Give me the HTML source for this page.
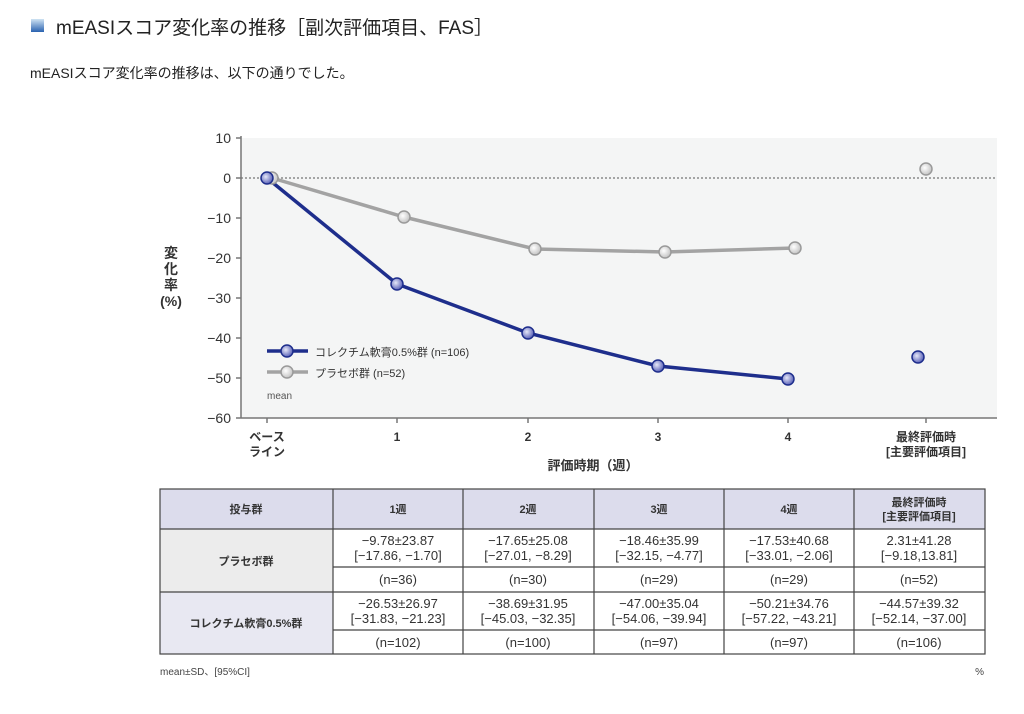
<!DOCTYPE html>
<html><head><meta charset="utf-8"><style>
body{margin:0;background:#fff;width:1024px;height:709px;overflow:hidden;font-family:"Liberation Sans","Noto Sans CJK JP",sans-serif}
svg text{font-family:"Liberation Sans","Noto Sans CJK JP",sans-serif}
</style></head><body>
<svg width="1024" height="709" viewBox="0 0 1024 709" xmlns="http://www.w3.org/2000/svg">
<defs>
<linearGradient id="ic" x1="0" y1="0" x2="0" y2="1"><stop offset="0" stop-color="#cfe3f3"/><stop offset="1" stop-color="#2a62b0"/></linearGradient>
<radialGradient id="gb" cx="0.4" cy="0.4" r="0.6"><stop offset="0" stop-color="#e6e8f8"/><stop offset="1" stop-color="#5a62b8"/></radialGradient>
<radialGradient id="gg" cx="0.4" cy="0.4" r="0.6"><stop offset="0" stop-color="#ffffff"/><stop offset="1" stop-color="#c4c4c4"/></radialGradient>
</defs>
<rect x="31" y="19" width="13" height="13" fill="url(#ic)"/>
<text x="56" y="34" font-size="19" fill="#222">mEASIスコア変化率の推移［副次評価項目、FAS］</text>
<text x="30" y="78" font-size="14" fill="#222">mEASIスコア変化率の推移は、以下の通りでした。</text>

<rect x="241" y="138" width="756" height="280" fill="#f4f5f5"/>
<line x1="241" y1="178" x2="997" y2="178" stroke="#555" stroke-width="1" stroke-dasharray="2,2"/>
<line x1="241" y1="136" x2="241" y2="418" stroke="#777" stroke-width="1.5"/>
<line x1="241" y1="418" x2="997" y2="418" stroke="#777" stroke-width="1.5"/>
<g stroke="#777" stroke-width="1.5">
<line x1="236" y1="138" x2="241" y2="138"/><line x1="236" y1="178" x2="241" y2="178"/><line x1="236" y1="218" x2="241" y2="218"/><line x1="236" y1="258" x2="241" y2="258"/><line x1="236" y1="298" x2="241" y2="298"/><line x1="236" y1="338" x2="241" y2="338"/><line x1="236" y1="378" x2="241" y2="378"/><line x1="236" y1="418" x2="241" y2="418"/>
<line x1="267" y1="418" x2="267" y2="423"/><line x1="397" y1="418" x2="397" y2="423"/><line x1="528" y1="418" x2="528" y2="423"/><line x1="658" y1="418" x2="658" y2="423"/><line x1="788" y1="418" x2="788" y2="423"/><line x1="926" y1="418" x2="926" y2="423"/>
</g>
<g font-size="14" fill="#333" text-anchor="end">
<text x="231" y="143">10</text><text x="231" y="183">0</text><text x="231" y="223">−10</text><text x="231" y="263">−20</text><text x="231" y="303">−30</text><text x="231" y="343">−40</text><text x="231" y="383">−50</text><text x="231" y="423">−60</text>
</g>
<g font-size="12" fill="#333" text-anchor="middle" font-weight="bold">
<text x="171" y="258" font-size="14">変</text><text x="171" y="274" font-size="14">化</text><text x="171" y="290" font-size="14">率</text><text x="171" y="306" font-size="14">(%)</text>
<text x="267" y="441">ベース</text><text x="267" y="456">ライン</text>
<text x="397" y="441">1</text><text x="528" y="441">2</text><text x="658" y="441">3</text><text x="788" y="441">4</text>
<text x="926" y="441">最終評価時</text><text x="926" y="456">[主要評価項目]</text>
<text x="593" y="470" font-size="13">評価時期（週）</text>
</g>
<polyline points="272,178 404,217 535,249 665,252 795,248" fill="none" stroke="#a3a3a3" stroke-width="3.5"/>
<polyline points="267,178 397,284 528,333 658,366 788,379" fill="none" stroke="#1e2e8c" stroke-width="3.5"/>
<g stroke="#9a9a9a" stroke-width="1.5" fill="url(#gg)">
<circle cx="272" cy="178" r="6"/><circle cx="404" cy="217" r="6"/><circle cx="535" cy="249" r="6"/><circle cx="665" cy="252" r="6"/><circle cx="795" cy="248" r="6"/><circle cx="926" cy="169" r="6"/>
</g>
<g stroke="#1e2e8c" stroke-width="1.5" fill="url(#gb)">
<circle cx="267" cy="178" r="6"/><circle cx="397" cy="284" r="6"/><circle cx="528" cy="333" r="6"/><circle cx="658" cy="366" r="6"/><circle cx="788" cy="379" r="6"/><circle cx="918" cy="357" r="6"/>
</g>
<line x1="267" y1="351" x2="308" y2="351" stroke="#1e2e8c" stroke-width="3.5"/>
<circle cx="287" cy="351" r="6" stroke="#1e2e8c" stroke-width="1.5" fill="url(#gb)"/>
<line x1="267" y1="372" x2="308" y2="372" stroke="#a3a3a3" stroke-width="3.5"/>
<circle cx="287" cy="372" r="6" stroke="#9a9a9a" stroke-width="1.5" fill="url(#gg)"/>
<text x="315" y="356" font-size="11" fill="#333">コレクチム軟膏0.5%群 (n=106)</text>
<text x="315" y="377" font-size="11" fill="#333">プラセボ群 (n=52)</text>
<text x="267" y="399" font-size="10" fill="#555">mean</text>

<rect x="160" y="489" width="825" height="40" fill="#dcdcec"/>
<rect x="160" y="529" width="173" height="63" fill="#ececec"/>
<rect x="160" y="592" width="173" height="62" fill="#e8e8f2"/>
<g stroke="#444" stroke-width="1.2" fill="none">
<rect x="160" y="489" width="825" height="165"/>
<line x1="160" y1="529" x2="985" y2="529"/><line x1="160" y1="592" x2="985" y2="592"/>
<line x1="333" y1="567" x2="985" y2="567"/><line x1="333" y1="630" x2="985" y2="630"/>
<line x1="333" y1="489" x2="333" y2="654"/><line x1="463" y1="489" x2="463" y2="654"/><line x1="594" y1="489" x2="594" y2="654"/><line x1="724" y1="489" x2="724" y2="654"/><line x1="854" y1="489" x2="854" y2="654"/>
</g>
<g font-size="13" fill="#333" text-anchor="middle">
<g font-weight="bold" font-size="11">
<text x="246" y="513">投与群</text><text x="398" y="513">1週</text><text x="528" y="513">2週</text><text x="659" y="513">3週</text><text x="789" y="513">4週</text>
<text x="919" y="506">最終評価時</text><text x="919" y="520">[主要評価項目]</text>
<text x="246" y="565">プラセボ群</text><text x="246" y="627">コレクチム軟膏0.5%群</text>
</g>
<text x="398" y="545">−9.78±23.87</text><text x="398" y="560">[−17.86, −1.70]</text>
<text x="528" y="545">−17.65±25.08</text><text x="528" y="560">[−27.01, −8.29]</text>
<text x="659" y="545">−18.46±35.99</text><text x="659" y="560">[−32.15, −4.77]</text>
<text x="789" y="545">−17.53±40.68</text><text x="789" y="560">[−33.01, −2.06]</text>
<text x="919" y="545">2.31±41.28</text><text x="919" y="560">[−9.18,13.81]</text>
<text x="398" y="584">(n=36)</text><text x="528" y="584">(n=30)</text><text x="659" y="584">(n=29)</text><text x="789" y="584">(n=29)</text><text x="919" y="584">(n=52)</text>
<text x="398" y="608">−26.53±26.97</text><text x="398" y="623">[−31.83, −21.23]</text>
<text x="528" y="608">−38.69±31.95</text><text x="528" y="623">[−45.03, −32.35]</text>
<text x="659" y="608">−47.00±35.04</text><text x="659" y="623">[−54.06, −39.94]</text>
<text x="789" y="608">−50.21±34.76</text><text x="789" y="623">[−57.22, −43.21]</text>
<text x="919" y="608">−44.57±39.32</text><text x="919" y="623">[−52.14, −37.00]</text>
<text x="398" y="647">(n=102)</text><text x="528" y="647">(n=100)</text><text x="659" y="647">(n=97)</text><text x="789" y="647">(n=97)</text><text x="919" y="647">(n=106)</text>
</g>
<text x="160" y="675" font-size="10" fill="#444">mean±SD、[95%CI]</text>
<text x="984" y="675" font-size="10" fill="#444" text-anchor="end">%</text>
</svg>
</body></html>
